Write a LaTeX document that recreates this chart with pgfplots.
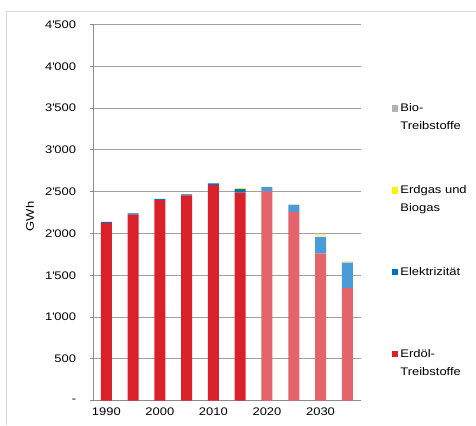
\documentclass[border=0pt]{standalone}
\usepackage{fontspec}
\setmainfont{Liberation Sans}[FakeStretch=1.18]
\usepackage{pgfplots}
\pgfplotsset{compat=1.18}
\definecolor{oilP}{HTML}{DA2129}
\definecolor{oilF}{HTML}{E5646C}
\definecolor{elP}{HTML}{0070C0}
\definecolor{elF}{HTML}{4A9BD7}
\definecolor{gasP}{HTML}{FFF200}
\definecolor{gasF}{HTML}{F3EDB8}
\definecolor{bio}{HTML}{B3B3B3}
\definecolor{gridc}{HTML}{A0A0A0}
\definecolor{axc}{HTML}{8C8C8C}
\newcommand\q{\textquotesingle}
\newcommand\leg[3]{\begin{tabular}[t]{@{}l@{\hspace{2bp}}l@{}}\textcolor{#1}{\rule[0.3bp]{6.5bp}{6.5bp}} & #2\\ & #3\end{tabular}}
\begin{document}
\fontsize{11bp}{17.5bp}\selectfont
\begin{tikzpicture}
\begin{axis}[
    at={(0,0)}, anchor=south west,
    scale only axis,
    width=268bp, height=376.5bp,
    ybar stacked,
    bar width=11bp,
    xmin=-0.5, xmax=9.5,
    ymin=0, ymax=4500,
    xtick={0,...,9},
    xticklabels={1990,,2000,,2010,,2020,,2030,},
    extra x ticks={-0.5,0.5,...,9.5},
    extra x tick labels={},
    extra x tick style={major tick length=4bp, grid=none},
    ytick={0,500,...,4500},
    yticklabels={-,500,1\q000,1\q500,2\q000,2\q500,3\q000,3\q500,4\q000,4\q500},
    ymajorgrids,
    major grid style={gridc, line width=1.1pt},
    axis x line*=bottom,
    axis y line*=left,
    axis line style={axc, line width=0.8pt},
    tick style={axc, line width=0.8pt},
    tick align=outside,
    major tick length=3bp,
    xtick style={draw=none},
    yticklabel style={xshift=-10bp, font=\fontsize{11bp}{13bp}\selectfont},
    xticklabel style={font=\fontsize{11bp}{13bp}\selectfont},
    ylabel={GWh},
    ylabel style={at={(axis description cs:-0.235,0.49)}, anchor=center, font=\fontsize{11bp}{13bp}\selectfont},
    every axis plot/.append style={draw=none},
]
% Erdoel-Treibstoffe
\addplot[fill=oilP] coordinates {(0,2125) (1,2225) (2,2400) (3,2455) (4,2580) (5,2490) (6,0) (7,0) (8,0) (9,0)};
\addplot[fill=oilF] coordinates {(0,0) (1,0) (2,0) (3,0) (4,0) (5,0) (6,2505) (7,2258) (8,1760) (9,1345)};
% Elektrizitaet
\addplot[fill=elP] coordinates {(0,15) (1,15) (2,15) (3,12) (4,18) (5,40) (6,0) (7,0) (8,0) (9,0)};
\addplot[fill=elF] coordinates {(0,0) (1,0) (2,0) (3,0) (4,0) (5,0) (6,50) (7,85) (8,195) (9,305)};
% Erdgas und Biogas
\addplot[fill=gasP] coordinates {(0,0) (1,0) (2,0) (3,0) (4,0) (5,8) (6,0) (7,0) (8,0) (9,0)};
\addplot[fill=gasF] coordinates {(0,0) (1,0) (2,0) (3,0) (4,0) (5,0) (6,5) (7,10) (8,40) (9,22)};
\end{axis}
% legend
\node[anchor=base west, inner sep=0] at (299bp,289bp) {\leg{bio}{Bio-}{Treibstoffe}};
\node[anchor=base west, inner sep=0] at (299bp,207bp) {\leg{gasP}{Erdgas und}{Biogas}};
\node[anchor=base west, inner sep=0] at (299bp,125bp) {\begin{tabular}[t]{@{}l@{\hspace{2bp}}l@{}}\textcolor{elP}{\rule[0.3bp]{6.5bp}{6.5bp}} & Elektrizität\end{tabular}};
\node[anchor=base west, inner sep=0] at (299bp,43bp) {\leg{oilP}{Erdöl-}{Treibstoffe}};
% frame
\draw[line width=0.8pt, black!15] (-87bp,-24bp) -- (-87bp,390bp) -- (383bp,390bp);
\useasboundingbox (-93bp,-24bp) rectangle (383bp,401bp);
\end{tikzpicture}
\end{document}
